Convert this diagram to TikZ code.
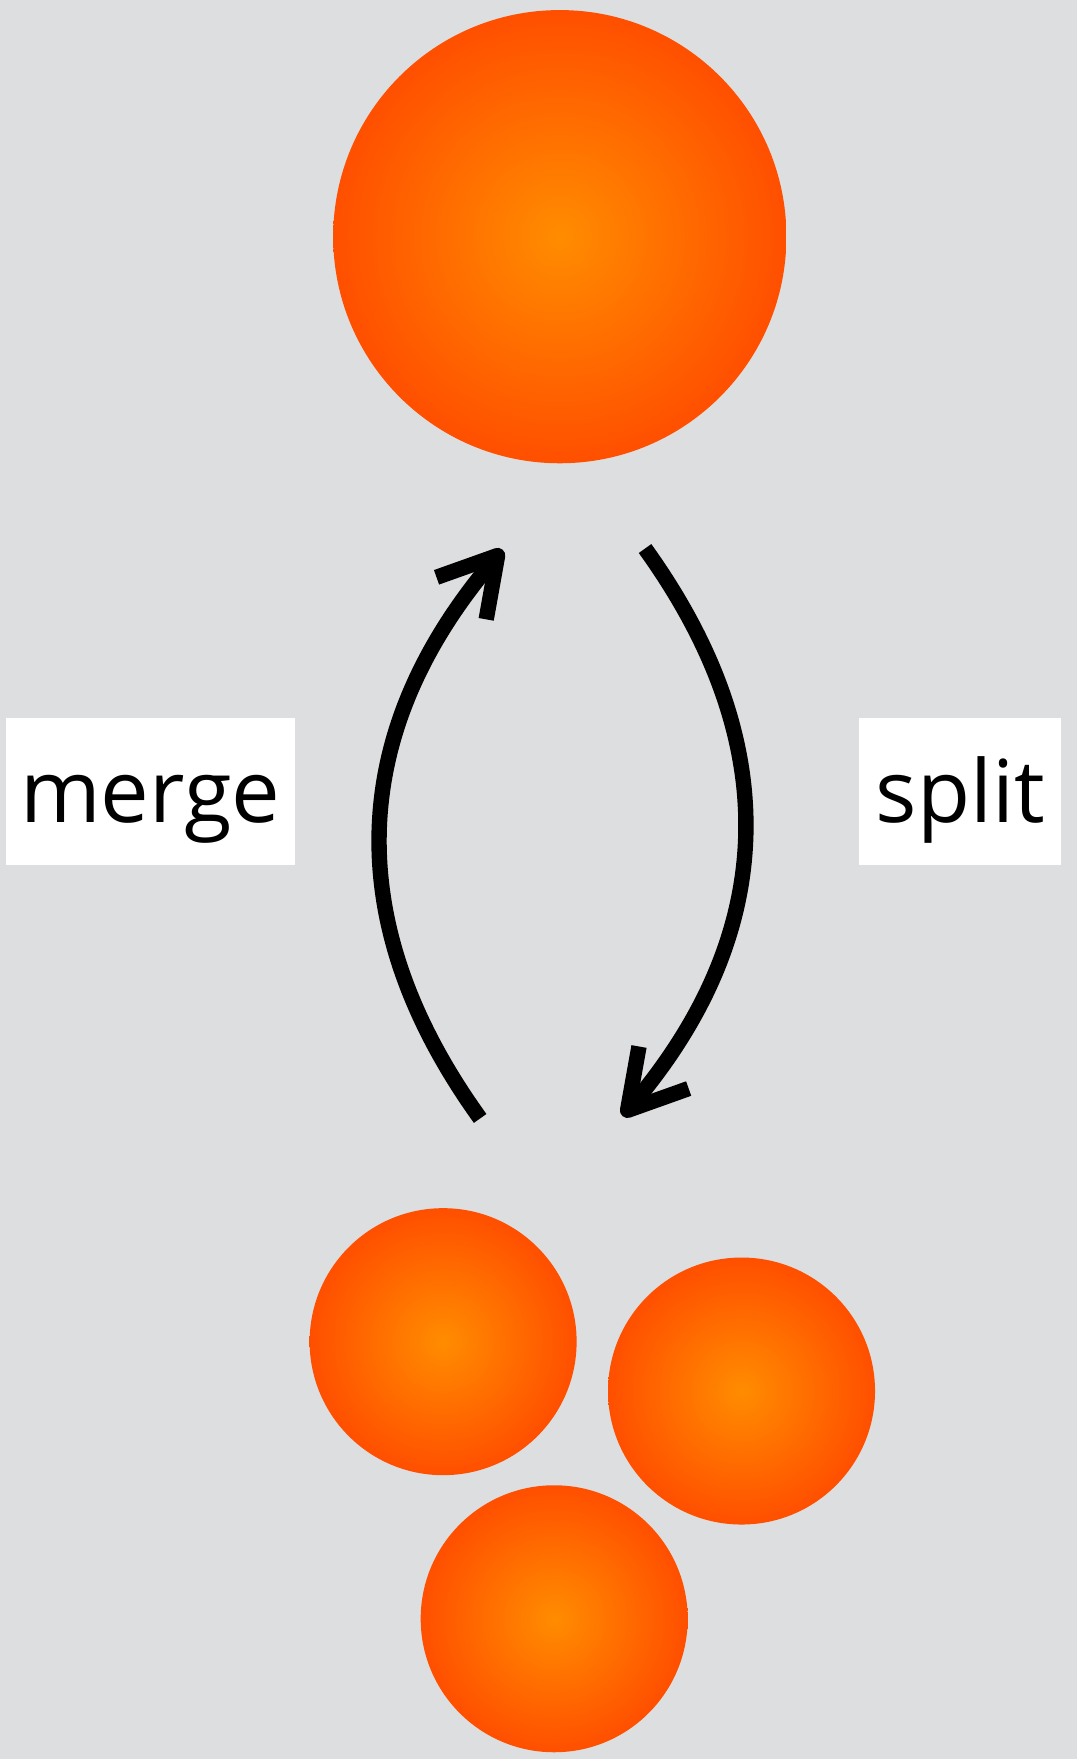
\documentclass[tikz,border=0pt]{standalone}
\usepackage{fontspec}
\setmainfont{Open Sans}
\usetikzlibrary{arrows.meta}

\definecolor{bggrey}{HTML}{DDDEE0}
\definecolor{dropinner}{HTML}{FF8C00}
\definecolor{dropouter}{HTML}{FF4F00}

\tikzset{
    drop/.style={inner color=dropinner, outer color=dropouter},
    flow/.style={line width=3.9pt, -{Straight Barb[length=5mm, width=5.8mm, line join=round, line cap=butt]}},
    tag/.style={fill=white, minimum height=1.31cm, inner sep=0pt, text height=0.55cm, text depth=0pt, font=\fontsize{22}{26}\selectfont}
}

\begin{document}
\begin{tikzpicture}

    % Background and bounding box
    \fill[bggrey] (0, 0) rectangle (9.6, 15.68);
    \useasboundingbox (0, 0) rectangle (9.6, 15.68);

    % Define the radii of the drops
    \def\bigradius{2.02}
    \def\smallradius{1.19}

    % Centres of the drops
    \coordinate (big) at (4.99, 13.57);
    \coordinate (left) at (3.95, 3.72);
    \coordinate (right) at (6.61, 3.28);
    \coordinate (bottom) at (4.94, 1.25);

    % Draw the big drop
    \shade[drop] (big) circle (\bigradius);

    % Draw the small drops
    \shade[drop] (left) circle (\smallradius);
    \shade[drop] (right) circle (\smallradius);
    \shade[drop] (bottom) circle (\smallradius);

    % Ends of the arrows
    \coordinate (mergefrom) at (4.28, 5.71);
    \coordinate (mergeto) at (4.48, 10.78);
    \coordinate (splitfrom) at (5.75, 10.79);
    \coordinate (splitto) at (5.55, 5.73);

    % Draw the merge arrow (up, on the left)
    \draw[flow] (mergefrom) to[bend left=38, looseness=1.08] (mergeto);

    % Draw the split arrow (down, on the right)
    \draw[flow] (splitfrom) to[bend left=38, looseness=1.08] (splitto);

    % Label the merge arrow
    \node[tag, minimum width=2.58cm] (merge) at (1.34, 8.625) {merge};

    % Label the split arrow
    \node[tag, minimum width=1.80cm] (split) at (8.56, 8.625) {split};

\end{tikzpicture}
\end{document}
